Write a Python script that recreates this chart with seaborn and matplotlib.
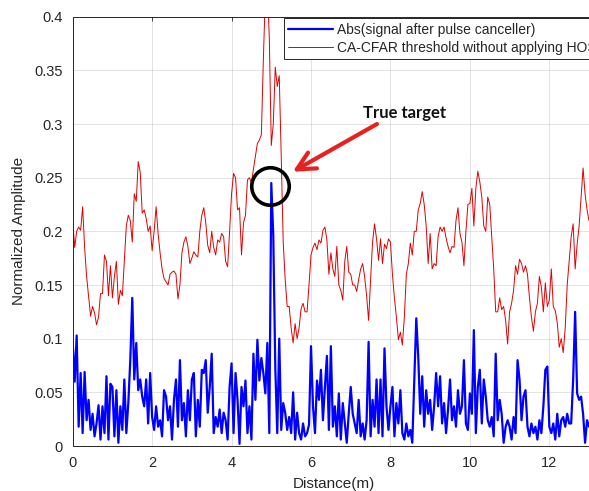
"""
CA-CFAR threshold vs. pulse-canceller output, with the true target marked.
"""

import numpy as np
import pandas as pd
import matplotlib
matplotlib.use("Agg")
import matplotlib.pyplot as plt
import seaborn as sns

distance = np.round(np.arange(0, 261) * 0.05, 2)

cfar_threshold = [
    0.211, 0.185, 0.200, 0.204, 0.201, 0.223, 0.185, 0.158, 0.140, 0.121,
    0.130, 0.124, 0.113, 0.120, 0.142, 0.142, 0.178, 0.172, 0.140, 0.168,
    0.138, 0.158, 0.172, 0.132, 0.145, 0.140, 0.173, 0.205, 0.215, 0.210,
    0.190, 0.235, 0.228, 0.265, 0.255, 0.217, 0.220, 0.212, 0.200, 0.205,
    0.182, 0.200, 0.223, 0.198, 0.180, 0.165, 0.156, 0.153, 0.150, 0.160,
    0.162, 0.163, 0.160, 0.137, 0.150, 0.180, 0.190, 0.195, 0.186, 0.170,
    0.175, 0.181, 0.178, 0.176, 0.200, 0.215, 0.222, 0.208, 0.187, 0.180,
    0.200, 0.185, 0.178, 0.192, 0.190, 0.198, 0.195, 0.172, 0.167, 0.200,
    0.235, 0.254, 0.250, 0.220, 0.222, 0.178, 0.208, 0.215, 0.248, 0.250,
    0.245, 0.258, 0.270, 0.282, 0.285, 0.290, 0.360, 0.420, 0.430, 0.380,
    0.280, 0.300, 0.353, 0.335, 0.345, 0.270, 0.190, 0.155, 0.130, 0.130,
    0.110, 0.096, 0.114, 0.100, 0.110, 0.128, 0.133, 0.125, 0.125, 0.150,
    0.178, 0.185, 0.189, 0.183, 0.192, 0.189, 0.201, 0.204, 0.192, 0.160,
    0.180, 0.165, 0.158, 0.186, 0.150, 0.145, 0.136, 0.172, 0.186, 0.162,
    0.160, 0.150, 0.150, 0.144, 0.155, 0.165, 0.170, 0.158, 0.140, 0.117,
    0.155, 0.190, 0.207, 0.193, 0.173, 0.193, 0.170, 0.188, 0.184, 0.193,
    0.190, 0.160, 0.138, 0.120, 0.099, 0.106, 0.094, 0.120, 0.160, 0.170,
    0.189, 0.178, 0.200, 0.200, 0.220, 0.226, 0.237, 0.225, 0.205, 0.170,
    0.198, 0.165, 0.170, 0.168, 0.195, 0.204, 0.200, 0.204, 0.194, 0.186,
    0.180, 0.186, 0.185, 0.210, 0.222, 0.198, 0.190, 0.168, 0.200, 0.225,
    0.226, 0.240, 0.205, 0.240, 0.256, 0.246, 0.232, 0.205, 0.200, 0.232,
    0.225, 0.195, 0.165, 0.125, 0.125, 0.138, 0.127, 0.130, 0.117, 0.095,
    0.125, 0.133, 0.145, 0.168, 0.160, 0.174, 0.170, 0.162, 0.168, 0.160,
    0.138, 0.120, 0.107, 0.125, 0.133, 0.158, 0.148, 0.125, 0.152, 0.130,
    0.136, 0.165, 0.130, 0.126, 0.115, 0.092, 0.100, 0.087, 0.110, 0.150,
    0.172, 0.195, 0.207, 0.165, 0.188, 0.205, 0.232, 0.259, 0.235, 0.220,
    0.210,
]

abs_signal = [
    0.097, 0.060, 0.103, 0.018, 0.068, 0.012, 0.069, 0.024, 0.043, 0.015,
    0.030, 0.009, 0.021, 0.038, 0.006, 0.037, 0.012, 0.065, 0.006, 0.058,
    0.055, 0.009, 0.052, 0.003, 0.037, 0.015, 0.062, 0.012, 0.040, 0.080,
    0.138, 0.062, 0.096, 0.052, 0.062, 0.046, 0.037, 0.062, 0.021, 0.068,
    0.027, 0.015, 0.037, 0.018, 0.024, 0.009, 0.052, 0.046, 0.024, 0.037,
    0.006, 0.043, 0.062, 0.018, 0.080, 0.024, 0.040, 0.009, 0.052, 0.024,
    0.062, 0.068, 0.009, 0.043, 0.018, 0.071,
    0.068, 0.080, 0.031, 0.055, 0.086, 0.012, 0.027, 0.018, 0.034, 0.012,
    0.031, 0.024, 0.006, 0.055, 0.077, 0.012, 0.068, 0.043, 0.002, 0.055,
    0.037, 0.061, 0.012, 0.037, 0.006, 0.086, 0.043, 0.099, 0.061, 0.082,
    0.068, 0.049, 0.096, 0.012, 0.245, 0.196, 0.074, 0.012, 0.100, 0.015,
    0.040, 0.031, 0.015, 0.027, 0.012, 0.050, 0.006, 0.031, 0.012, 0.006,
    0.021, 0.009, 0.012, 0.020, 0.093, 0.037, 0.012, 0.061, 0.043, 0.071,
    0.024, 0.055, 0.084, 0.015,
    0.093, 0.018, 0.037, 0.009, 0.049, 0.006, 0.040, 0.021, 0.003, 0.030,
    0.055, 0.030, 0.021, 0.012, 0.043, 0.009, 0.021, 0.006, 0.024, 0.097,
    0.009, 0.043, 0.018, 0.062, 0.012, 0.062, 0.009, 0.091, 0.037, 0.015,
    0.037, 0.055, 0.009, 0.040, 0.021, 0.052, 0.012, 0.006, 0.021, 0.009,
    0.015, 0.003, 0.062, 0.119, 0.083, 0.030, 0.065, 0.018, 0.052, 0.030,
    0.043, 0.015, 0.037, 0.068, 0.037, 0.065, 0.021, 0.040, 0.012, 0.034,
    0.062, 0.024, 0.037, 0.018, 0.052, 0.030,
    0.037, 0.080, 0.021, 0.015, 0.049, 0.030, 0.108, 0.012, 0.055, 0.071,
    0.021, 0.062, 0.046, 0.024, 0.018, 0.027, 0.009, 0.086, 0.024, 0.043,
    0.030, 0.003, 0.018, 0.024, 0.018, 0.006, 0.027, 0.012, 0.080, 0.062,
    0.024, 0.046, 0.052, 0.018, 0.009, 0.021, 0.012, 0.018, 0.006, 0.024,
    0.012, 0.037, 0.071, 0.074, 0.018, 0.012, 0.021, 0.006, 0.030, 0.009,
    0.024, 0.027, 0.018, 0.030, 0.021, 0.021, 0.062, 0.125, 0.049, 0.043,
    0.046, 0.030, 0.003, 0.024, 0.018,
]

x_ticks = [0, 2, 4, 6, 8, 10, 12]
y_ticks = [0, 0.05, 0.1, 0.15, 0.2, 0.25, 0.3, 0.35, 0.4]
y_tick_labels = ["0", "0.05", "0.1", "0.15", "0.2", "0.25", "0.3", "0.35", "0.4"]

signal_label = "Abs(signal after pulse canceller)"
threshold_label = "CA-CFAR threshold without applying HOS"

df = pd.DataFrame({
    "distance": distance,
    "signal": abs_signal,
    "threshold": cfar_threshold,
})

# ---- style ----
sns.set_style("white")
plt.rcParams["font.family"] = ["Liberation Sans", "DejaVu Sans"]
axis_gray = (0.15, 0.15, 0.15)

fig = plt.figure(figsize=(5.89, 4.91), dpi=100)
W, H = 589.0, 491.0
# axes run off the right edge like the cropped original
ax = fig.add_axes([72.7 / W, 45.0 / H, (595.0 - 72.7) / W, 429.3 / H])

sns.lineplot(data=df, x="distance", y="signal", ax=ax, color="#0000ff",
             linewidth=1.6, label=signal_label, zorder=3)
sns.lineplot(data=df, x="distance", y="threshold", ax=ax, color="#e00000",
             linewidth=0.7, label=threshold_label, zorder=2)

ax.set_xlim(0, 13.15)
ax.set_ylim(0, 0.4)
ax.set_xticks(x_ticks)
ax.set_yticks(y_ticks)
ax.set_yticklabels(y_tick_labels)
ax.grid(True, color=axis_gray, alpha=0.15, linewidth=0.6)

for side in ["top", "left", "bottom"]:
    ax.spines[side].set_color(axis_gray)
    ax.spines[side].set_linewidth(0.7)
ax.spines["right"].set_visible(False)

ax.tick_params(axis="both", direction="in", length=3, width=0.6,
               colors=axis_gray, labelsize=10.5, top=True, right=False)
ax.tick_params(axis="x", pad=7)
ax.tick_params(axis="y", pad=7)

ax.set_xlabel("Distance(m)", fontsize=11, color=axis_gray, labelpad=5)
ax.set_ylabel("Normalized Amplitude", fontsize=11, color=axis_gray, labelpad=6)

leg = ax.legend(loc="upper left", bbox_to_anchor=(284 / W, 1 - 18.3 / H),
                bbox_transform=fig.transFigure, borderaxespad=0,
                fontsize=10, frameon=True, fancybox=False, framealpha=1,
                edgecolor=axis_gray, borderpad=0.32, labelspacing=0.3,
                handlelength=3.2, handletextpad=0.3)
leg.get_frame().set_linewidth(0.7)
for txt in leg.get_texts():
    txt.set_color(axis_gray)

# ---- annotation: circle on the target peak, arrow and label ----
peak = int(np.argmax(abs_signal))
ax.plot(distance[peak] - 0.03, abs_signal[peak] - 0.003, "o", ms=27,
        mfc="none", mec="black", mew=2.6, zorder=5)

ax.annotate("", xy=(5.54, 0.2556), xytext=(7.66, 0.300),
            arrowprops=dict(arrowstyle="->,head_length=1.0,head_width=0.5",
                            mutation_scale=13, lw=3, color="#e8211f",
                            shrinkA=0, shrinkB=0),
            zorder=6)
ax.text(8.35, 0.3106, "True target", fontsize=12, fontweight="bold",
        family=["Lato", "DejaVu Sans"], color="#111111",
        ha="center", va="center", zorder=6)

fig.savefig("out.png", dpi=100)
plt.close(fig)
